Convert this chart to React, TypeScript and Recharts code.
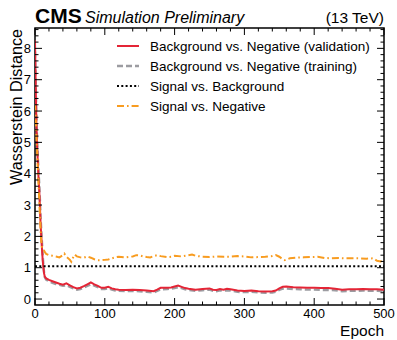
import React from 'react';
import { LineChart, Line, XAxis, YAxis, Customized } from 'recharts';

const FONT = "'Liberation Sans', Arial, Helvetica, sans-serif";
const W = 397;
const H = 340;
const PLOT = { left: 35, right: 384, top: 28, bottom: 305 };
// each axis reserves one pixel, taken back from the margin
const AXIS_PX = 1;

// Epochs at which the background-vs-negative distances were recorded
const EPOCHS_BG = [
  0, 1, 2, 3, 4, 5, 6, 7, 8, 9, 10, 11, 12, 13, 14, 16, 20,
  25, 30, 35, 40, 45, 50, 55, 60, 65, 70, 75, 80, 85, 90, 95, 100, 105, 110, 115, 120,
  130, 140, 150, 160, 170, 175, 180, 190, 195, 200, 205, 210, 215, 220,
  230, 240, 250, 255, 260, 265, 270, 275, 280, 290, 300, 310, 320, 330, 340,
  345, 350, 355, 360, 370, 380, 390, 400, 410, 420, 430, 440, 450, 460, 470, 480, 490, 500,
];

const BG_NEG_VALIDATION = [
  8.25, 6.8, 5.6, 4.9, 4.4, 3.9, 3.5, 3.0, 2.4, 2.0, 1.6, 1.25, 1.0, 0.82, 0.72, 0.66, 0.61,
  0.57, 0.53, 0.49, 0.46, 0.5, 0.44, 0.38, 0.34, 0.36, 0.41, 0.47, 0.53, 0.47, 0.42, 0.36, 0.36, 0.39, 0.34, 0.31, 0.3,
  0.29, 0.3, 0.29, 0.27, 0.25, 0.3, 0.36, 0.36, 0.37, 0.4, 0.43, 0.39, 0.35, 0.33,
  0.3, 0.32, 0.34, 0.3, 0.29, 0.32, 0.3, 0.33, 0.31, 0.27, 0.26, 0.27, 0.25, 0.24, 0.25,
  0.27, 0.34, 0.39, 0.4, 0.38, 0.37, 0.36, 0.36, 0.35, 0.35, 0.33, 0.3, 0.31, 0.31, 0.32, 0.31, 0.31, 0.3,
];

const BG_NEG_TRAINING = [
  7.9, 6.9, 5.9, 5.1, 4.6, 4.1, 3.7, 3.2, 2.6, 2.2, 1.8, 1.4, 1.1, 0.85, 0.7, 0.62, 0.56,
  0.52, 0.48, 0.45, 0.42, 0.44, 0.39, 0.34, 0.3, 0.32, 0.37, 0.42, 0.47, 0.43, 0.38, 0.32, 0.32, 0.34, 0.3, 0.27, 0.26,
  0.25, 0.26, 0.25, 0.23, 0.21, 0.26, 0.31, 0.32, 0.33, 0.35, 0.38, 0.35, 0.31, 0.29,
  0.26, 0.28, 0.3, 0.26, 0.25, 0.28, 0.26, 0.28, 0.27, 0.23, 0.22, 0.23, 0.21, 0.2, 0.21,
  0.23, 0.29, 0.33, 0.34, 0.32, 0.31, 0.3, 0.3, 0.29, 0.29, 0.28, 0.25, 0.26, 0.26, 0.27, 0.26, 0.26, 0.25,
];

// Epochs at which the signal-vs-negative distance was recorded
const EPOCHS_SN = [
  0, 1, 2, 3, 4, 5, 6, 7, 8, 9, 10, 11, 12, 13, 14, 16, 20,
  25, 30, 35, 40, 42, 45, 50, 52, 55, 57, 60,
  65, 70, 75, 80, 85, 90, 95, 100, 105, 110, 115, 120,
  130, 140, 145, 150, 155, 160, 165, 170, 175, 180,
  190, 195, 200, 210, 220, 225, 230, 240, 250, 260, 270, 280, 290, 300, 310, 320, 330, 340,
  345, 350, 355, 358, 365, 375, 385, 395, 405, 415, 425, 435, 445, 455, 465, 475, 485, 490, 495, 500,
];

const SIG_NEG = [
  6.2, 5.8, 5.2, 4.7, 4.2, 3.7, 3.2, 2.7, 2.2, 1.85, 1.65, 1.6, 1.58, 1.55, 1.5, 1.44, 1.4,
  1.38, 1.36, 1.33, 1.4, 1.45, 1.35, 1.25, 1.19, 1.35, 1.42, 1.36,
  1.33, 1.32, 1.36, 1.32, 1.27, 1.24, 1.24, 1.25, 1.26, 1.3, 1.33, 1.35,
  1.33, 1.36, 1.4, 1.39, 1.36, 1.34, 1.33, 1.37, 1.4, 1.37,
  1.34, 1.35, 1.38, 1.36, 1.4, 1.42, 1.38, 1.35, 1.34, 1.36, 1.35, 1.35, 1.37, 1.36, 1.33, 1.34, 1.35, 1.37,
  1.4, 1.35, 1.27, 1.24, 1.3, 1.32, 1.33, 1.34, 1.35, 1.31, 1.3, 1.31, 1.3, 1.3, 1.3, 1.29, 1.3, 1.22, 1.2, 1.24,
];

// Signal vs. background reference distance
const EPOCHS_SB = [0, 500];
const SIG_BG = [1.05, 1.05];

const X_DOMAIN: [number, number] = [0, 500];
const Y_DOMAIN: [number, number] = [-0.19, 8.65];
const X_MAJOR = [0, 100, 200, 300, 400, 500];

const X_TICKS = Array.from({ length: 26 }, (_, i) => i * 20);
const Y_TICKS = Array.from({ length: 44 }, (_, i) => Math.round(i * 2) / 10);

const toPoints = (epochs: number[], values: number[]) =>
  epochs.map((epoch, i) => ({ epoch, value: values[i] }));

const SERIES = [
  { name: 'Background vs. Negative (validation)', color: '#e42536', width: 2, dash: undefined as string | undefined, data: toPoints(EPOCHS_BG, BG_NEG_VALIDATION) },
  { name: 'Background vs. Negative (training)', color: '#9c9ca1', width: 2.4, dash: '6 3', data: toPoints(EPOCHS_BG, BG_NEG_TRAINING) },
  { name: 'Signal vs. Background', color: '#000000', width: 2, dash: '2 2.3', data: toPoints(EPOCHS_SB, SIG_BG) },
  { name: 'Signal vs. Negative', color: '#f89c20', width: 2, dash: '7 3 1.6 3', data: toPoints(EPOCHS_SN, SIG_NEG) },
];

// draw order: training beneath validation, signal curves on top
const DRAW_ORDER = [1, 0, 2, 3];

const isMajorX = (v: number) => X_MAJOR.includes(v);
const isMajorY = (v: number) => Math.abs(v - Math.round(v)) < 1e-6;

const renderBottomTick = (props: any) => {
  const { x, payload, index } = props;
  const v = payload.value;
  const major = isMajorX(v);
  return (
    <g key={`b-${index}`}>
      <line x1={x} x2={x} y1={PLOT.bottom} y2={PLOT.bottom - (major ? 7 : 3.5)} stroke="#000" strokeWidth={1} />
      {major && (
        <text x={x} y={PLOT.bottom + 13} textAnchor="middle" fontSize={13} fontFamily={FONT} fill="#000">
          {v}
        </text>
      )}
    </g>
  );
};

const renderTopTick = (props: any) => {
  const { x, payload, index } = props;
  const major = isMajorX(payload.value);
  return (
    <line key={`t-${index}`} x1={x} x2={x} y1={PLOT.top} y2={PLOT.top + (major ? 7 : 3.5)} stroke="#000" strokeWidth={1} />
  );
};

const renderLeftTick = (props: any) => {
  const { y, payload, index } = props;
  const v = payload.value;
  const major = isMajorY(v);
  return (
    <g key={`l-${index}`}>
      <line x1={PLOT.left} x2={PLOT.left + (major ? 7 : 3.5)} y1={y} y2={y} stroke="#000" strokeWidth={1} />
      {major && (
        <text x={PLOT.left - 4} y={y + 4.7} textAnchor="end" fontSize={13} fontFamily={FONT} fill="#000">
          {Math.round(v)}
        </text>
      )}
    </g>
  );
};

const renderRightTick = (props: any) => {
  const { y, payload, index } = props;
  const major = isMajorY(payload.value);
  return (
    <line key={`r-${index}`} x1={PLOT.right} x2={PLOT.right - (major ? 7 : 3.5)} y1={y} y2={y} stroke="#000" strokeWidth={1} />
  );
};

const Decorations = () => (
  <g fontFamily={FONT} fill="#000">
    <rect
      x={PLOT.left}
      y={PLOT.top}
      width={PLOT.right - PLOT.left}
      height={PLOT.bottom - PLOT.top}
      fill="none"
      stroke="#000"
      strokeWidth={1.5}
    />
    <text x={35} y={23} fontSize={21} fontWeight="bold">CMS</text>
    <text x={85} y={23} fontSize={16} fontStyle="italic">Simulation Preliminary</text>
    <text x={384} y={23} fontSize={15.5} textAnchor="end">(13 TeV)</text>
    <text x={384} y={336} fontSize={15.5} textAnchor="end">Epoch</text>
    <text x={22} y={29} fontSize={16.2} textAnchor="end" transform="rotate(-90 22 29)">
      Wasserstein Distance
    </text>
    {SERIES.map((s, i) => {
      const cy = 46 + i * 20;
      return (
        <g key={s.name}>
          <line x1={117} x2={139} y1={cy} y2={cy} stroke={s.color} strokeWidth={s.width} strokeDasharray={s.dash} />
          <text x={150} y={cy + 4.8} fontSize={13.5}>{s.name}</text>
        </g>
      );
    })}
  </g>
);

export default function App() {
  return (
    <div style={{ position: 'absolute', left: 0, top: 0, width: W, height: H, background: '#fff' }}>
      <LineChart
        width={W}
        height={H}
        margin={{
          top: PLOT.top - AXIS_PX,
          right: W - PLOT.right - AXIS_PX,
          bottom: H - PLOT.bottom - AXIS_PX,
          left: PLOT.left - AXIS_PX,
        }}
      >
        <XAxis
          xAxisId="b"
          dataKey="epoch"
          type="number"
          domain={X_DOMAIN}
          allowDataOverflow
          ticks={X_TICKS}
          interval={0}
          height={AXIS_PX}
          tickSize={0}
          tickMargin={0}
          axisLine={false}
          tickLine={false}
          tick={renderBottomTick}
        />
        <XAxis
          xAxisId="t"
          orientation="top"
          dataKey="epoch"
          type="number"
          domain={X_DOMAIN}
          allowDataOverflow
          ticks={X_TICKS}
          interval={0}
          height={AXIS_PX}
          tickSize={0}
          tickMargin={0}
          axisLine={false}
          tickLine={false}
          tick={renderTopTick}
        />
        <YAxis
          yAxisId="l"
          type="number"
          domain={Y_DOMAIN}
          allowDataOverflow
          ticks={Y_TICKS}
          interval={0}
          width={AXIS_PX}
          tickSize={0}
          tickMargin={0}
          axisLine={false}
          tickLine={false}
          tick={renderLeftTick}
        />
        <YAxis
          yAxisId="r"
          orientation="right"
          type="number"
          domain={Y_DOMAIN}
          allowDataOverflow
          ticks={Y_TICKS}
          interval={0}
          width={AXIS_PX}
          tickSize={0}
          tickMargin={0}
          axisLine={false}
          tickLine={false}
          tick={renderRightTick}
        />
        {DRAW_ORDER.map((i) => {
          const s = SERIES[i];
          return (
            <Line
              key={s.name}
              xAxisId="b"
              yAxisId="l"
              data={s.data}
              dataKey="value"
              name={s.name}
              type="linear"
              stroke={s.color}
              strokeWidth={s.width}
              strokeDasharray={s.dash}
              dot={false}
              activeDot={false}
              isAnimationActive={false}
            />
          );
        })}
        <Customized component={<Decorations />} />
      </LineChart>
    </div>
  );
}
